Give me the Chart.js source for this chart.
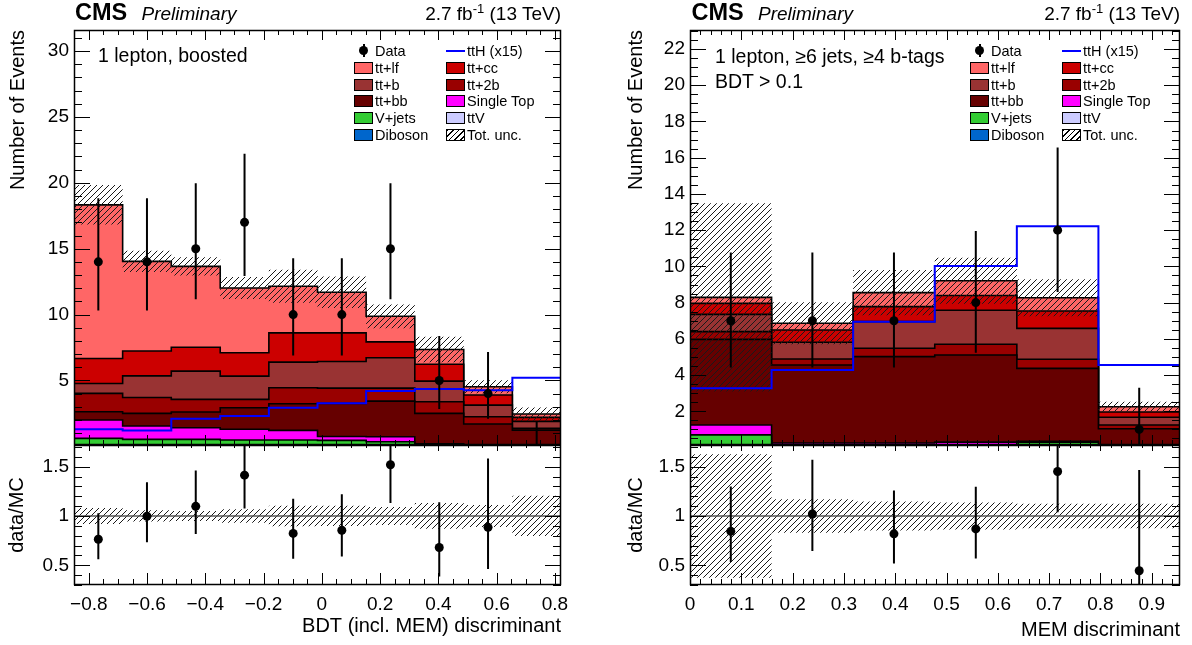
<!DOCTYPE html>
<html>
<head>
<meta charset="utf-8">
<title>CMS ttH MEM discriminants</title>
<script src="https://cdn.jsdelivr.net/npm/chart.js@4/dist/chart.umd.min.js"></script>
<style>
  html, body { margin:0; padding:0; background:#fff; }
  #root { position:relative; width:1192px; height:645px; overflow:hidden; background:#fff;
          font-family:"Liberation Sans", Arial, Helvetica, sans-serif; color:#000; }
  canvas { position:absolute; display:block; }
  .txt { position:absolute; white-space:nowrap; line-height:1; }
</style>
</head>
<body>
<div id="root">
  <canvas id="bdtMain" width="596" height="445" style="left:0px;top:0px"></canvas>
  <canvas id="bdtRatio" width="596" height="200" style="left:0px;top:445px"></canvas>
  <canvas id="memMain" width="596" height="445" style="left:596px;top:0px"></canvas>
  <canvas id="memRatio" width="596" height="200" style="left:596px;top:445px"></canvas>
  <div id="overlay"></div>
</div>
<script>
// ================= DATA : left panel (BDT incl. MEM, 1 lepton boosted) =================
const bdtEdges   = [-0.851, -0.684, -0.517, -0.349, -0.182, -0.015, 0.152, 0.319, 0.487, 0.654, 0.821];
const bdtData    = [14, 14, 15, 17, 10, 10, 15, 5, 4, 0];
const bdtDataLo  = [10.30, 10.30, 11.17, 12.92, 6.89, 6.89, 11.17, 2.84, 2.09, 0];
const bdtDataHi  = [18.83, 18.83, 19.96, 22.20, 14.27, 14.27, 19.96, 8.38, 7.16, 1.84];
const bdtDiboson = [0.02, 0.02, 0.02, 0.02, 0.02, 0.02, 0.02, 0.01, 0.01, 0.01];
const bdtTtV     = [0.03, 0.03, 0.03, 0.03, 0.03, 0.03, 0.03, 0.02, 0.02, 0.02];
const bdtVjets   = [0.55, 0.48, 0.48, 0.43, 0.43, 0.40, 0.30, 0.07, 0.02, 0.02];
const bdtSingleT = [1.40, 1.01, 0.88, 0.81, 0.73, 0.30, 0.38, 0.10, 0.05, 0.05];
const bdtTtbb    = [0.62, 0.96, 1.19, 1.64, 2.02, 2.51, 2.70, 2.30, 1.59, 1.13];
const bdtTt2b    = [1.40, 1.21, 0.96, 0.63, 1.21, 1.16, 0.99, 0.88, 0.55, 0.13];
const bdtTtb     = [0.75, 1.64, 2.15, 1.77, 1.95, 2.02, 2.30, 1.57, 0.89, 0.53];
const bdtTtcc    = [1.90, 1.89, 1.81, 1.77, 2.22, 2.17, 1.21, 1.28, 0.76, 0.31];
const bdtTtlf    = [11.66, 6.80, 6.14, 4.92, 3.54, 3.08, 1.94, 1.12, 0.63, 0.25];
const bdtTtH     = [1.29, 1.21, 2.10, 2.30, 2.93, 3.26, 4.19, 4.35, 4.25, 5.20];
const bdtUnc     = [1.50, 0.80, 0.70, 0.83, 1.26, 1.20, 0.90, 0.96, 0.50, 0.50];

// ================= DATA : right panel (MEM, 1 lepton >=6 jets >=4 b-tags) =================
const memEdges   = [0, 0.159, 0.318, 0.477, 0.637, 0.796, 0.955];
const memData    = [7, 7, 7, 8, 12, 1];
const memDataLo  = [4.42, 4.42, 4.42, 5.23, 8.59, 0.17];
const memDataHi  = [10.77, 10.77, 10.77, 11.95, 16.56, 3.30];
const memDiboson = [0.01, 0.01, 0.01, 0.01, 0.01, 0.00];
const memTtV     = [0.02, 0.02, 0.02, 0.02, 0.02, 0.01];
const memVjets   = [0.67, 0.12, 0.07, 0.12, 0.27, 0.01];
const memSingleT = [0.54, 0.10, 0.15, 0.15, 0.05, 0.03];
const memTtbb    = [4.73, 4.31, 4.77, 4.81, 4.02, 0.99];
const memTt2b    = [0.43, 0.33, 0.46, 0.59, 0.50, 0.20];
const memTtb     = [0.95, 0.92, 1.47, 1.88, 1.71, 0.43];
const memTtcc    = [0.61, 0.68, 0.83, 0.81, 0.96, 0.29];
const memTtlf    = [0.33, 0.37, 0.77, 0.82, 0.73, 0.29];
const memTtH     = [3.27, 4.28, 6.95, 10.02, 12.22, 4.56];
const memUnc     = [5.20, 1.16, 1.25, 1.27, 1.02, 0.28];

// ================= labels / tick labels =================
const bdtXTicks  = [-0.8, -0.6, -0.4, -0.2, 0, 0.2, 0.4, 0.6, 0.8];
const memXTicks  = [0, 0.1, 0.2, 0.3, 0.4, 0.5, 0.6, 0.7, 0.8, 0.9];
const ratioTicks = [0.5, 1, 1.5];

// ================= styles =================
const COL = {
  ttlf:'#ff6666', ttcc:'#cc0000', ttb:'#993333', tt2b:'#990000', ttbb:'#660000',
  st:'#ff00ff', vj:'#33cc33', ttv:'#ccccff', db:'#0066cc', tth:'#0000ff'
};
const FAMILY = '"Liberation Sans", Arial, Helvetica, sans-serif';
Chart.defaults.font.family = FAMILY;
Chart.defaults.color = '#000';

function makeStack(d){ // bottom -> top
  return [
    {name:'Diboson',    color:COL.db,   vals:d.db},
    {name:'ttV',        color:COL.ttv,  vals:d.ttv},
    {name:'V+jets',     color:COL.vj,   vals:d.vj},
    {name:'Single Top', color:COL.st,   vals:d.st},
    {name:'tt+bb',      color:COL.ttbb, vals:d.ttbb},
    {name:'tt+2b',      color:COL.tt2b, vals:d.tt2b},
    {name:'tt+b',       color:COL.ttb,  vals:d.ttb},
    {name:'tt+cc',      color:COL.ttcc, vals:d.ttcc},
    {name:'tt+lf',      color:COL.ttlf, vals:d.ttlf}
  ];
}
const bdtPanel = {edges:bdtEdges, data:bdtData, lo:bdtDataLo, hi:bdtDataHi, tth:bdtTtH, unc:bdtUnc,
  comps: makeStack({db:bdtDiboson, ttv:bdtTtV, vj:bdtVjets, st:bdtSingleT, ttbb:bdtTtbb, tt2b:bdtTt2b, ttb:bdtTtb, ttcc:bdtTtcc, ttlf:bdtTtlf})};
const memPanel = {edges:memEdges, data:memData, lo:memDataLo, hi:memDataHi, tth:memTtH, unc:memUnc,
  comps: makeStack({db:memDiboson, ttv:memTtV, vj:memVjets, st:memSingleT, ttbb:memTtbb, tt2b:memTt2b, ttb:memTtb, ttcc:memTtcc, ttlf:memTtlf})};

// ================= helpers =================
function histPts(edges, vals){
  const p = vals.map((v,i)=>({x:edges[i], y:v}));
  p.push({x:edges[edges.length-1], y:vals[vals.length-1]});
  return p;
}
function closedPts(edges, vals){
  return [{x:edges[0], y:0}].concat(histPts(edges, vals), [{x:edges[edges.length-1], y:0}]);
}
function centers(edges){ return edges.slice(0,-1).map((e,i)=>(e+edges[i+1])/2); }
function hatchPattern(){
  const c = document.createElement('canvas'); c.width = 6; c.height = 6;
  const g = c.getContext('2d');
  g.strokeStyle = '#1a1a1a'; g.lineWidth = 1;
  g.beginPath();
  g.moveTo(0,6); g.lineTo(6,0);
  g.moveTo(-1,1); g.lineTo(1,-1);
  g.moveTo(5,7); g.lineTo(7,5);
  g.stroke();
  return g.createPattern(c, 'repeat');
}
const TRANSP = 'rgba(0,0,0,0)';
const STEP = 'before';
function fmtNum(v){
  const r = Math.round(v*1000)/1000;
  return r < 0 ? '\u2212' + String(-r) : String(r);
}

// ROOT-like frame with inward ticks, drawn from the chart's own scales
const rootFrame = {
  id:'rootFrame',
  afterDatasetsDraw(chart, args, o){
    if (!o || !o.xMinor) return;
    const {ctx, chartArea:a} = chart;
    const xs = chart.scales.x, ys = chart.scales.y;
    const isMaj = (v, m) => Math.abs(v/m - Math.round(v/m)) < 1e-6;
    const each = (sc, step, fn) => {
      const n0 = Math.ceil(sc.min/step - 1e-6), n1 = Math.floor(sc.max/step + 1e-6);
      for (let n=n0; n<=n1; n++) fn(sc.getPixelForValue(n*step), n*step);
    };
    ctx.save();
    ctx.strokeStyle = '#000'; ctx.lineWidth = 1;
    ctx.beginPath();
    each(xs, o.xMinor, (px, v) => {
      const maj = isMaj(v, o.xMajor);
      const Lb = maj ? o.xLen[0] : o.xLen[1];
      const Lt = maj ? o.xTop[0] : o.xTop[1];
      const p = Math.round(px) + 0.5;
      ctx.moveTo(p, a.bottom); ctx.lineTo(p, a.bottom - Lb);
      ctx.moveTo(p, a.top); ctx.lineTo(p, a.top + Lt);
    });
    each(ys, o.yMinor, (py, v) => {
      const L = isMaj(v, o.yMajor) ? o.yLen[0] : o.yLen[1];
      const p = Math.round(py) + 0.5;
      ctx.moveTo(a.left, p); ctx.lineTo(a.left + L, p);
      ctx.moveTo(a.right, p); ctx.lineTo(a.right - L, p);
    });
    ctx.stroke();
    ctx.lineWidth = 1.5;
    ctx.strokeRect(a.left + 0.5, a.top + 0.5, a.right - a.left - 1, a.bottom - a.top - 1);
    ctx.restore();
  }
};
Chart.register(rootFrame);

const PAT = hatchPattern();

function buildMain(canvasId, p, cfg){
  const ds = [];
  let cum = p.comps[0].vals.map(()=>0);
  p.comps.forEach((c,k)=>{
    cum = cum.map((v,i)=>v + c.vals[i]);
    ds.push({label:c.name, data:histPts(p.edges, cum), stepped:STEP, fill: k===0 ? 'origin' : '-1',
      backgroundColor:c.color, borderColor:'#000', borderWidth:1.6, pointRadius:0, order:10});
  });
  const tot = cum;
  ds.push({label:'unc low', data:histPts(p.edges, tot.map((t,i)=>t - p.unc[i])), stepped:STEP, fill:false,
    borderColor:TRANSP, borderWidth:0, pointRadius:0, order:5});
  ds.push({label:'Tot. unc.', data:histPts(p.edges, tot.map((t,i)=>t + p.unc[i])), stepped:STEP, fill:'-1',
    backgroundColor:PAT, borderColor:TRANSP, borderWidth:0, pointRadius:0, order:5});
  ds.push({label:'ttH (x15)', data:closedPts(p.edges, p.tth), stepped:STEP, fill:false,
    borderColor:COL.tth, borderWidth:2, pointRadius:0, order:3});
  const cx = centers(p.edges);
  const err = [];
  p.data.forEach((n,i)=>{ err.push({x:cx[i], y:p.lo[i]}, {x:cx[i], y:p.hi[i]}, {x:cx[i], y:null}); });
  ds.push({label:'Data errors', data:err, fill:false, borderColor:'#000', borderWidth:2, pointRadius:0, spanGaps:false, order:2});
  ds.push({label:'Data', data:p.data.map((n,i)=>({x:cx[i], y: n>0 ? n : null})), showLine:false,
    pointRadius:4.5, pointBackgroundColor:'#000', pointBorderColor:'#000', pointBorderWidth:0, order:1});

  new Chart(document.getElementById(canvasId), {
    type:'line',
    data:{datasets:ds},
    options:{
      responsive:false, animation:false, events:[],
      layout:{autoPadding:false, padding:{left:0, right:cfg.padRight, top:30, bottom:0}},
      plugins:{legend:{display:false}, tooltip:{enabled:false},
        rootFrame:{xMinor:cfg.xMinor, xMajor:cfg.xMajor, yMinor:cfg.yMinor, yMajor:cfg.yMajor,
                   xLen:[10,5], xTop:[10,5], yLen:[16,8]}},
      scales:{
        x:{type:'linear', display:false, min:p.edges[0], max:p.edges[p.edges.length-1], offset:false,
           grid:{drawTicks:false}, afterFit:(s)=>{ s.height = 0; }},
        y:{type:'linear', min:cfg.yMin, max:cfg.yMax, offset:false,
          grid:{display:false, drawTicks:false}, border:{display:false},
          ticks:{stepSize:cfg.yStep, includeBounds:false, autoSkip:false, font:{size:19}, padding:5, color:'#000', callback:fmtNum},
          title:{display:true, text:'Number of Events', align:'end', color:'#000', font:{size:20}, padding:{top:cfg.titlePad, bottom:0}},
          afterFit:(s)=>{ s.width = cfg.axisW; s.paddingTop = 0; s.paddingBottom = 0; }
        }
      }
    }
  });
  return tot;
}

function buildRatio(canvasId, p, tot, cfg){
  const cx = centers(p.edges);
  const last = p.edges[p.edges.length-1];
  const ds = [];
  ds.push({label:'ratio unc low', data:histPts(p.edges, tot.map((t,i)=>1 - p.unc[i]/t)), stepped:STEP, fill:false,
    borderColor:TRANSP, borderWidth:0, pointRadius:0, order:5});
  ds.push({label:'ratio unc', data:histPts(p.edges, tot.map((t,i)=>1 + p.unc[i]/t)), stepped:STEP, fill:'-1',
    backgroundColor:PAT, borderColor:TRANSP, borderWidth:0, pointRadius:0, order:5});
  ds.push({label:'unity', data:[{x:p.edges[0], y:1}, {x:last, y:1}], fill:false, borderColor:'#555', borderWidth:1.3, pointRadius:0, order:4});
  const err = [];
  p.data.forEach((n,i)=>{ if (n>0) err.push({x:cx[i], y:p.lo[i]/tot[i]}, {x:cx[i], y:p.hi[i]/tot[i]}, {x:cx[i], y:null}); });
  ds.push({label:'ratio errors', data:err, fill:false, borderColor:'#000', borderWidth:2, pointRadius:0, spanGaps:false, order:2});
  ds.push({label:'data/MC', data:p.data.map((n,i)=>({x:cx[i], y: n>0 ? n/tot[i] : null})), showLine:false,
    pointRadius:4.5, pointBackgroundColor:'#000', pointBorderColor:'#000', pointBorderWidth:0, order:1});

  new Chart(document.getElementById(canvasId), {
    type:'line',
    data:{datasets:ds},
    options:{
      responsive:false, animation:false, events:[],
      layout:{autoPadding:false, padding:{left:0, right:cfg.padRight, top:0, bottom:0}},
      plugins:{legend:{display:false}, tooltip:{enabled:false},
        rootFrame:{xMinor:cfg.xMinor, xMajor:cfg.xMajor, yMinor:0.1, yMajor:0.5,
                   xLen:[12,6], xTop:[6,3], yLen:[16,8]}},
      scales:{
        x:{type:'linear', min:p.edges[0], max:last, offset:false,
          grid:{display:false, drawTicks:false}, border:{display:false},
          afterBuildTicks:(s)=>{ s.ticks = cfg.xTicks.map(v=>({value:v})); },
          ticks:{autoSkip:false, maxRotation:0, minRotation:0, font:{size:19}, padding:8, color:'#000', callback:fmtNum},
          title:{display:true, text:cfg.xTitle, align:'end', color:'#000', font:{size:20}, padding:{top:0, bottom:cfg.xTitlePad}},
          afterFit:(s)=>{ s.height = 60; s.paddingLeft = 0; s.paddingRight = 0; }
        },
        y:{type:'linear', min:0.3, max:1.72, offset:false,
          grid:{display:false, drawTicks:false}, border:{display:false},
          afterBuildTicks:(s)=>{ s.ticks = ratioTicks.map(v=>({value:v})); },
          ticks:{autoSkip:false, font:{size:19}, padding:5, color:'#000', callback:fmtNum},
          title:{display:true, text:'data/MC', align:'center', color:'#000', font:{size:20}, padding:{top:cfg.titlePad, bottom:0}},
          afterFit:(s)=>{ s.width = cfg.axisW; s.paddingTop = 0; s.paddingBottom = 0; }
        }
      }
    }
  });
}

const bdtTot = buildMain('bdtMain', bdtPanel, {padRight:35, axisW:74, titlePad:6, yMin:0.1, yMax:31.6, yStep:5, yMinor:1, yMajor:5, xMinor:0.05, xMajor:0.2});
buildRatio('bdtRatio', bdtPanel, bdtTot, {padRight:35, axisW:74, titlePad:5, xMinor:0.05, xMajor:0.2, xTicks:bdtXTicks, xTitle:'BDT (incl. MEM) discriminant', xTitlePad:7});
const memTot = buildMain('memMain', memPanel, {padRight:12, axisW:94, titlePad:28, yMin:0.14, yMax:23.05, yStep:2, yMinor:0.5, yMajor:2, xMinor:0.02, xMajor:0.1});
buildRatio('memRatio', memPanel, memTot, {padRight:12, axisW:94, titlePad:28, xMinor:0.02, xMajor:0.1, xTicks:memXTicks, xTitle:'MEM discriminant', xTitlePad:3});

// ================= text overlays (header, labels, legends) =================
const overlay = document.getElementById('overlay');
function addText(html, x, cy, size, extra, alignRight){
  const d = document.createElement('div');
  d.className = 'txt';
  d.innerHTML = html;
  d.style.fontSize = size + 'px';
  d.style.top = (cy - 0.49*size) + 'px';
  if (alignRight) d.style.right = (1192 - x) + 'px'; else d.style.left = x + 'px';
  if (extra) Object.assign(d.style, extra);
  overlay.appendChild(d);
  return d;
}
function addBox(x, y, w, h, style){
  const d = document.createElement('div');
  d.style.position = 'absolute';
  d.style.left = x + 'px'; d.style.top = y + 'px'; d.style.width = w + 'px'; d.style.height = h + 'px';
  Object.assign(d.style, style || {});
  overlay.appendChild(d);
  return d;
}
const lumiHTML = '2.7 fb<span style="font-size:13px;position:relative;top:-7px">-1</span> (13 TeV)';
function header(xCms, xPrelim, xRight){
  addText('CMS', xCms, 12.5, 23.5, {fontWeight:'bold'});
  addText('Preliminary', xPrelim, 13.3, 19, {fontStyle:'italic'});
  addText(lumiHTML, xRight, 13, 19, null, true);
}
header(75, 141.5, 561);
header(691.5, 758, 1180);

addText('1 lepton, boosted', 98, 56, 19.5);
addText('1 lepton, \u22656 jets, \u22654 b-tags', 715, 57, 19.5);
addText('BDT &gt; 0.1', 715, 82, 19.5);

function legend(c1, c2){
  const rows = [50.7, 67.7, 84.7, 101.4, 118.3, 135.3];
  const names = {}; bdtPanel.comps.forEach(c=>names[c.name]=c.color);
  const left  = ['Data', 'tt+lf', 'tt+b', 'tt+bb', 'V+jets', 'Diboson'];
  const right = ['ttH (x15)', 'tt+cc', 'tt+2b', 'Single Top', 'ttV', 'Tot. unc.'];
  const fs = 14.5;
  const entry = (sx, name, cy) => {
    if (name === 'Data') {
      addBox(sx + 9.5 - 4.5, cy - 4.5, 9, 9, {background:'#000', borderRadius:'50%'});
      addBox(sx + 9.5 - 1, cy - 6.5, 2, 13, {background:'#000'});
    } else if (name === 'ttH (x15)') {
      addBox(sx, cy - 1, 19, 2, {background:COL.tth});
    } else if (name === 'Tot. unc.') {
      addBox(sx, cy - 6, 19, 12, {boxSizing:'border-box', border:'1.5px solid #000',
        background:'repeating-linear-gradient(135deg, #000 0px, #000 1px, #fff 1px, #fff 4px)'});
    } else {
      addBox(sx, cy - 6, 19, 12, {boxSizing:'border-box', border:'1.5px solid #000', background:names[name]});
    }
    addText(name, sx + 21, cy, fs);
  };
  rows.forEach((cy,k)=>{ entry(c1, left[k], cy); entry(c2, right[k], cy); });
}
legend(354, 446);
legend(970, 1062);
</script>
</body>
</html>
